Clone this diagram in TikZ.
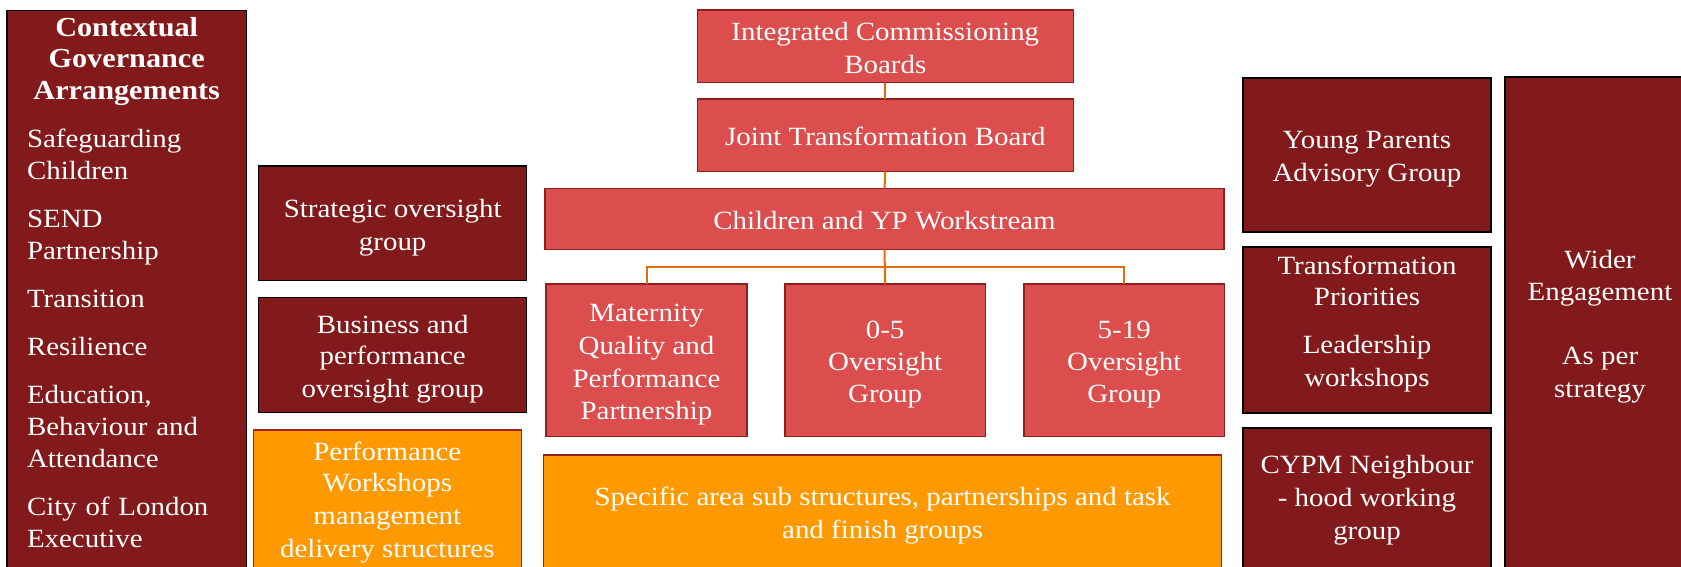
\documentclass[tikz,border=0pt]{standalone}
\usepackage{fontspec}
\setmainfont[FakeStretch=1.1]{Liberation Serif}

\definecolor{boxdark}{HTML}{82191B}
\definecolor{boxred}{HTML}{DC4D4D}
\definecolor{rededge}{HTML}{8E1F1F}
\definecolor{boxorange}{HTML}{FF9900}
\definecolor{orangeedge}{HTML}{9A2121}
\definecolor{linkorange}{HTML}{E36C09}

% a strut giving every text line the same ascent and descent
\newcommand\ST{\rule[-5.3pt]{0pt}{31.6pt}}

\tikzset{
  box/.style={rectangle, inner sep=0pt, outer sep=0pt, line width=1.5pt,
    align=center, text=white, anchor=north west},
  darkbox/.style={box, fill=boxdark, draw=black},
  redbox/.style={box, fill=boxred, draw=rededge},
  orangebox/.style={box, fill=boxorange, draw=orangeedge},
  label/.style={inner sep=0pt, text=white, align=center,
    font=\fontsize{26.3}{31.6}\selectfont},
  link/.style={draw=linkorange, line width=2pt},
}

\begin{document}
\begin{tikzpicture}[x=1pt,y=-1pt]
\useasboundingbox (0,0) rectangle (1681,566);
\clip (0,0) rectangle (1681,566);

% left column: governance context
\node[darkbox, minimum width=239.5pt, minimum height=620pt] (ctx) at (7,10.7) {};
\node[inner sep=0pt, text=white, align=left, text width=199.4pt,
      font=\fontsize{26.3}{32}\selectfont, anchor=north west] (ctxtext) at (26.8,17.3) {%
  {\centering\bfseries\fontsize{27.5}{31.3}\selectfont Contextual\\Governance\\Arrangements\par}
  \vspace{16pt}
  Safeguarding\\Children\par\vspace{16pt}
  SEND\\Partnership\par\vspace{16pt}
  Transition\par\vspace{16pt}
  Resilience\par\vspace{16pt}
  Education,\\Behaviour and\\Attendance\par\vspace{16pt}
  City of London\\Executive};

% oversight groups
\node[darkbox, label, anchor=north west, minimum width=268pt, minimum height=114.7pt] (strat) at (258.7,166)
  {\ST Strategic oversight\\\ST group};
\node[darkbox, label, anchor=north west, minimum width=268pt, minimum height=115pt] (bus) at (258.7,297.7)
  {\ST Business and\\\ST performance\\\ST oversight group};
\node[orangebox, minimum width=268pt, minimum height=220pt] (perf) at (253.3,430) {};
\node[label] (perftext) at (387.3,498.6)
  {\ST Performance\\\ST Workshops\\\ST management\\\ST delivery structures};

% central hierarchy
\node[redbox, label, anchor=north west, minimum width=376pt, minimum height=72.7pt] (icb) at (697.3,10)
  {\ST Integrated Commissioning\\\ST Boards};
\node[redbox, label, anchor=north west, minimum width=376pt, minimum height=72.3pt] (jtb) at (697.3,99)
  {\ST Joint Transformation Board};
\node[redbox, label, anchor=north west, minimum width=679pt, minimum height=61pt] (cyp) at (545,188.3)
  {\ST Children and YP Workstream};
\node[redbox, label, anchor=north west, minimum width=201pt, minimum height=152.7pt] (mat) at (546,284)
  {\ST Maternity\\\ST Quality and\\\ST Performance\\\ST Partnership};
\node[redbox, label, anchor=north west, minimum width=200.3pt, minimum height=152.7pt] (early) at (785,284)
  {\ST 0-5\\\ST Oversight\\\ST Group};
\node[redbox, label, anchor=north west, minimum width=200.5pt, minimum height=152.7pt] (school) at (1024,284)
  {\ST 5-19\\\ST Oversight\\\ST Group};
\node[orangebox, minimum width=678pt, minimum height=220pt] (spec) at (543.6,455) {};
\node[label] (spectext) at (882.6,511.3)
  {\ST Specific area sub structures, partnerships and task\\\ST and finish groups};

% connectors
\coordinate (busbar) at (885,267);
\draw[link] (icb.south) -- (jtb.north);
\draw[link] (jtb.south) -- (cyp.north);
\draw[link] (cyp.south) -- (early.north);
\draw[link] (mat.north) |- (busbar) -| (school.north);

% right column
\node[darkbox, label, anchor=north west, minimum width=248pt, minimum height=154pt] (yp) at (1243,78)
  {\ST Young Parents\\\ST Advisory Group};
\node[darkbox, minimum width=248pt, minimum height=166pt] (tp) at (1243,247) {};
\node[label] (tptext) at (1367,319.9)
  {\ST Transformation\\\ST Priorities\\[16pt]\ST Leadership\\\ST workshops};
\node[darkbox, minimum width=248pt, minimum height=200pt] (cypm) at (1243,428) {};
\node[label] (cypmtext) at (1367,496.1)
  {\ST CYPM Neighbour\\\ST - hood working\\\ST group};
\node[darkbox, minimum width=200pt, minimum height=560pt] (wider) at (1505,77) {};
\node[label] (widertext) at (1600,322.7)
  {\ST Wider\\\ST Engagement\\\ST\\\ST As per\\\ST strategy};
\end{tikzpicture}
\end{document}
